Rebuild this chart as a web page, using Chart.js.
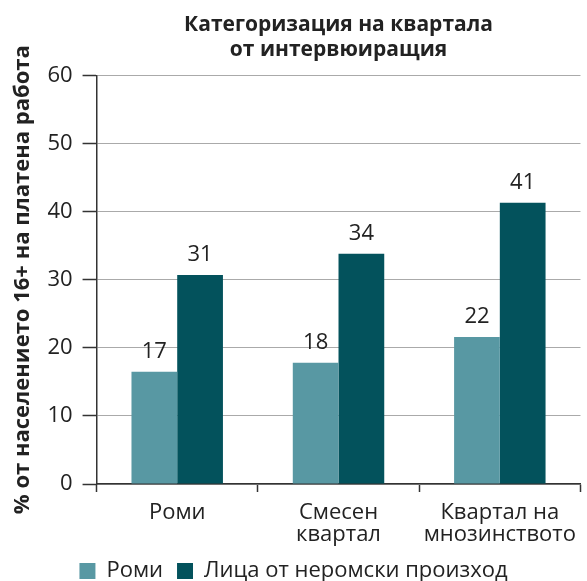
<!DOCTYPE html>
<html>
<head>
<meta charset="utf-8">
<script src="https://cdn.jsdelivr.net/npm/chart.js@4.4.1/dist/chart.umd.min.js"></script>
<style>
  html, body { margin: 0; padding: 0; background: #fff; }
  #wrap { width: 587px; height: 581px; }
</style>
</head>
<body>
<div id="wrap"><canvas id="chart"></canvas></div>
<script>
const categories = ['Роми', ['Смесен', 'квартал'], ['Квартал на', 'мнозинството']];
const romaValues = [16.5, 17.8, 21.6];
const nonRomaValues = [30.7, 33.8, 41.3];
const seriesNames = ['Роми', 'Лица от неромски произход'];
const yTicks = [0, 10, 20, 30, 40, 50, 60];

const FONT = '"Open Sans", "DejaVu Sans", sans-serif';
const TEXT = '#222';
const AXIS = '#333';

// numbers over the bars
const valueLabels = {
  id: 'valueLabels',
  afterDatasetsDraw(chart) {
    const ctx = chart.ctx;
    ctx.save();
    ctx.font = '22px ' + FONT;
    ctx.fillStyle = TEXT;
    ctx.textAlign = 'center';
    ctx.textBaseline = 'alphabetic';
    chart.data.datasets.forEach((ds, i) => {
      chart.getDatasetMeta(i).data.forEach((bar, j) => {
        ctx.fillText(String(Math.round(ds.data[j])), bar.x, bar.y - 14);
      });
    });
    ctx.restore();
  }
};

new Chart(document.getElementById('chart'), {
  type: 'bar',
  data: {
    labels: categories,
    datasets: [
      {
        label: seriesNames[0],
        data: romaValues,
        backgroundColor: '#5898a3'
      },
      {
        label: seriesNames[1],
        data: nonRomaValues,
        backgroundColor: '#03525c'
      }
    ]
  },
  options: {
    responsive: true,
    maintainAspectRatio: false,
    animation: false,
    devicePixelRatio: 1,
    categoryPercentage: 0.567,
    barPercentage: 1,
    layout: { padding: { left: 0, right: 0, top: 0, bottom: -11 } },
    font: { family: FONT },
    plugins: {
      title: {
        display: true,
        fullSize: false,
        text: ['Категоризация на квартала', 'от интервюиращия'],
        color: TEXT,
        font: { family: FONT, size: 21, weight: 'bold', lineHeight: 1.2 },
        padding: { top: 12, bottom: 13 }
      },
      legend: {
        position: 'bottom',
        labels: {
          color: TEXT,
          font: { family: FONT, size: 22 },
          boxWidth: 16,
          boxHeight: 16,
          padding: 14
        }
      },
      tooltip: { enabled: false }
    },
    scales: {
      x: {
        // trim the empty space under the two-line labels
        afterFit: (scale) => { scale.height -= 10; },
        grid: {
          offset: true,
          drawOnChartArea: false,
          drawTicks: true,
          tickLength: 8,
          tickColor: AXIS,
          tickWidth: 1.5
        },
        border: { color: AXIS, width: 1.5 },
        ticks: {
          color: TEXT,
          font: { family: FONT, size: 22, lineHeight: 1 },
          padding: 10,
          maxRotation: 0
        }
      },
      y: {
        min: 0,
        max: 60,
        afterBuildTicks: (scale) => { scale.ticks = yTicks.map(v => ({ value: v })); },
        grid: { color: '#aaa', lineWidth: 1, tickLength: 14, tickColor: AXIS, tickWidth: 1.5 },
        border: { color: AXIS, width: 1.5 },
        ticks: { color: TEXT, font: { family: FONT, size: 22 }, padding: 10 },
        title: {
          display: true,
          text: '% от населението 16+ на платена работа',
          color: TEXT,
          font: { family: FONT, size: 22, weight: 'bold' },
          padding: { top: 10, bottom: 1 }
        }
      }
    }
  },
  plugins: [valueLabels]
});
</script>
</body>
</html>
